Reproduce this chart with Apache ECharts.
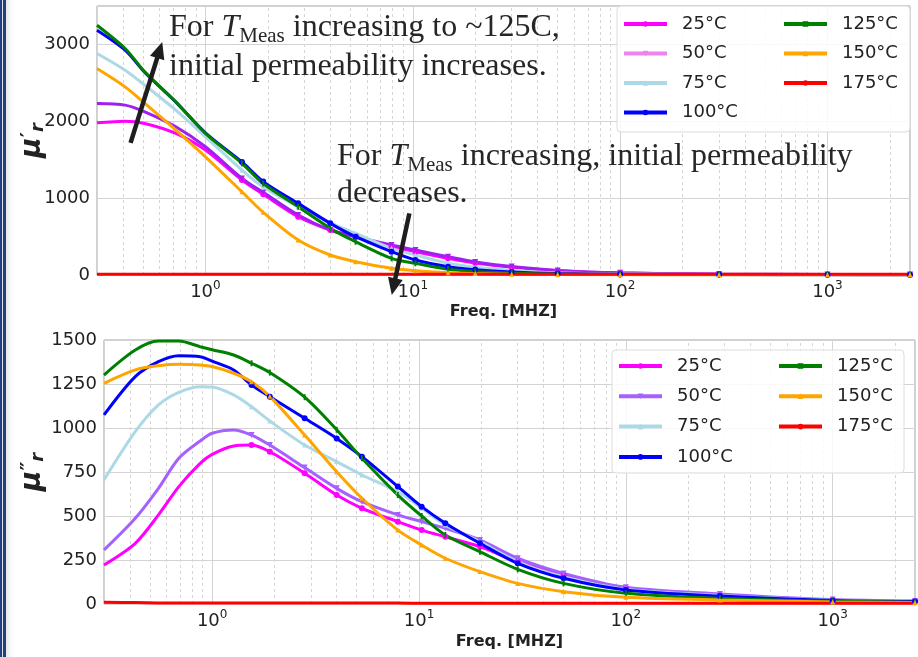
<!DOCTYPE html>
<html><head><meta charset="utf-8">
<script src="https://cdn.jsdelivr.net/npm/echarts@6/dist/echarts.min.js"></script>
<style>html,body{margin:0;padding:0;background:#fff}#c{width:918px;height:657px}</style>
</head><body><div id="c"></div>
<script>
// ---------- data ----------
const names = ['25°C','50°C','75°C','100°C','125°C','150°C','175°C'];

const freqTop = [0.3, 0.41, 0.51, 0.72, 1.0, 1.5, 1.9, 2.8, 4.0, 5.3, 7.9, 10.3, 14.8, 20, 30, 50, 100, 300, 1000, 2500];
const top25  = [1980, 2002, 1972, 1842, 1625, 1235, 1050, 758, 585, 498, 368, 303, 217, 155, 100, 55, 25, 10, 5, 4];
const top50  = [2232, 2210, 2123, 1928, 1668, 1257, 1075, 780, 585, 498, 390, 325, 238, 170, 110, 60, 28, 12, 6, 5];
const top75  = [2882, 2665, 2470, 2145, 1798, 1365, 1145, 888, 680, 542, 347, 260, 152, 100, 60, 30, 15, 8, 5, 4];
const top100 = [3185, 2925, 2635, 2250, 1850, 1470, 1215, 932, 672, 498, 303, 195, 108, 70, 40, 20, 10, 6, 4, 3];
const top125 = [3250, 2947, 2643, 2253, 1842, 1452, 1190, 888, 607, 433, 217, 152, 74, 45, 25, 12, 6, 4, 3, 3];
const top150 = [2687, 2448, 2232, 1885, 1538, 1083, 815, 455, 260, 173, 87, 55, 30, 18, 10, 6, 4, 3, 3, 3];
const top175 = [10, 10, 10, 10, 10, 10, 10, 10, 10, 10, 10, 10, 10, 10, 10, 10, 10, 10, 10, 10];

const freqBot = [0.3, 0.425, 0.55, 0.69, 0.875, 1.0, 1.27, 1.55, 1.9, 2.8, 4.0, 5.3, 7.9, 10.3, 13.4, 19.7, 30, 50, 100, 285, 1000, 2500];
const bot25  = [222, 345, 506, 667, 799, 850, 898, 903, 865, 743, 619, 544, 468, 420, 382, 326, 240, 165, 89, 51, 22, 15];
const bot50  = [307, 487, 657, 828, 926, 970, 989, 960, 903, 775, 657, 581, 506, 468, 430, 364, 260, 174, 95, 57, 25, 17];
const bot75  = [705, 979, 1131, 1203, 1235, 1233, 1188, 1121, 1040, 903, 809, 733, 638, 545, 449, 354, 240, 155, 84, 49, 22, 15];
const bot100 = [1074, 1292, 1377, 1411, 1405, 1380, 1330, 1244, 1178, 1055, 941, 837, 667, 553, 459, 345, 231, 146, 80, 45, 20, 14];
const bot125 = [1301, 1443, 1494, 1494, 1462, 1445, 1415, 1368, 1315, 1175, 990, 828, 619, 500, 392, 297, 197, 117, 61, 32, 15, 10];
const bot150 = [1254, 1330, 1354, 1362, 1358, 1349, 1311, 1263, 1180, 960, 752, 601, 420, 335, 260, 184, 117, 70, 38, 23, 12, 8];
const bot175 = [10, 8, 6, 5, 5, 5, 5, 5, 5, 5, 5, 5, 5, 4, 4, 4, 4, 4, 4, 4, 4, 4];

const minorTicks = [0.4,0.5,0.6,0.7,0.8,0.9, 2,3,4,5,6,7,8,9, 20,30,40,50,60,70,80,90, 200,300,400,500,600,700,800,900, 2000];
const yTicksTop = {min: 0, max: 3500, interval: 1000};
const yTicksBot = {min: 0, max: 1500, interval: 250};

const arrowUp   = {from: [0.4355, 1720], to: [0.619, 3033]};
const arrowDown = {from: [9.63, 802], to: [7.92, -260]};

// ---------- styles ----------
const colorsTop = ['#ff00ff','#a020f0','#add8e6','#0000ff','#008000','#ffa500','#ff0000'];
const legendTop = ['#ff00ff','#ee82ee','#add8e6','#0000ff','#008000','#ffa500','#ff0000'];
const colorsBot = ['#ff00ff','#a560ff','#add8e6','#0000ff','#008000','#ffa500','#ff0000'];
const symbols = [
  {symbol:'circle', size:6, rot:0},
  {symbol:'triangle', size:6, rot:180},
  {symbol:'triangle', size:5, rot:0},
  {symbol:'circle', size:6, rot:0},
  {symbol:'rect', size:[2,6], rot:0},
  {symbol:'triangle', size:5, rot:0},
  {symbol:'none', size:0, rot:0}
];
const FONT = 'DejaVu Sans';
const TXT = '#222';

const topSets = [top25, top50, top75, top100, top125, top150, top175];
const botSets = [bot25, bot50, bot75, bot100, bot125, bot150, bot175];
const botNames = names.map(n => n + '\u200b');

function build(freq, vals) {
  return freq.map((f, i) => f < 1.4 ? {value: [f, vals[i]], symbol: 'none'} : [f, vals[i]]);
}

const series = [];
function addSeries(sets, nms, colors, ai) {
  sets.forEach((vals, k) => {
    series.push({
      name: nms[k], type: 'line', xAxisIndex: ai, yAxisIndex: ai,
      data: build(ai === 0 ? freqTop : freqBot, vals), color: colors[k],
      symbol: symbols[k].symbol, symbolSize: symbols[k].size, symbolRotate: symbols[k].rot,
      showSymbol: k !== 6, smooth: 0.3, lineStyle: {width: 3}, animation: false, z: 2
    });
  });
}
addSeries(topSets, names, colorsTop, 0);
addSeries(botSets, botNames, colorsBot, 1);
[0, 1].forEach(i => {
  series.push({
    type: 'line', xAxisIndex: i, yAxisIndex: i, data: [], silent: true, animation: false,
    markLine: {
      silent: true, symbol: 'none', z: 1, animation: false,
      label: {show: false},
      lineStyle: {color: '#d6d6d6', type: [3, 3], width: 1},
      emphasis: {disabled: true},
      data: minorTicks.map(v => ({xAxis: v}))
    }
  });
});

function powFmt(v) {
  const e = Math.log10(v), r = Math.round(e);
  if (Math.abs(e - r) < 1e-6) return '{b|10}{s|' + r + '}';
  return '';
}
function xAxisCfg(gi, gap) {
  return {
    type: 'log', logBase: 10, gridIndex: gi, min: 0.3, max: 2500,
    axisLine: {show: false}, axisTick: {show: false},
    splitLine: {show: true, lineStyle: {color: '#d3d3d3', width: 1}},
    axisLabel: {
      formatter: powFmt, margin: 5,
      rich: {
        b: {fontSize: 18, lineHeight: 24, color: TXT, fontFamily: FONT},
        s: {fontSize: 12, lineHeight: 12, verticalAlign: 'top', color: TXT, fontFamily: FONT}
      }
    },
    name: 'Freq. [MHZ]', nameLocation: 'middle', nameGap: gap, nameMoveOverlap: false,
    nameTextStyle: {fontWeight: 'bold', fontSize: 16, color: TXT, fontFamily: FONT}
  };
}
function yAxisCfg(gi, t, nm, gap) {
  return {
    type: 'value', gridIndex: gi, min: t.min, max: t.max, interval: t.interval,
    axisLine: {show: false}, axisTick: {show: false},
    splitLine: {show: true, lineStyle: {color: '#d3d3d3', width: 1}},
    axisLabel: {fontSize: 18, color: TXT, margin: 7, fontFamily: FONT, showMaxLabel: gi === 1,
                formatter: v => String(v)},
    name: nm, nameLocation: 'middle', nameRotate: 90, nameGap: gap, nameMoveOverlap: false,
    nameTextStyle: {
      rich: {
        m: {fontSize: 28, fontWeight: 'bold', fontStyle: 'italic', fontFamily: FONT, color: TXT, lineHeight: 28},
        p: {fontSize: 20, fontWeight: 'bold', fontFamily: FONT, color: TXT, lineHeight: 20, verticalAlign: 'top'},
        r: {fontSize: 18, fontWeight: 'bold', fontStyle: 'italic', fontFamily: FONT, color: TXT, lineHeight: 18, verticalAlign: 'bottom'}
      }
    }
  };
}
function legendCfg(list, left, top, colors, offs, gap) {
  return {
    orient: 'vertical', left: left, top: top, padding: 0,
    itemWidth: 43, itemHeight: 7, itemGap: gap,
    textStyle: {fontSize: 18, color: TXT, fontFamily: FONT, lineHeight: 18, padding: [0, 0, 0, 10]},
    data: list.map((n, i) => ({
      name: n,
      itemStyle: {color: colors[offs + i]},
      lineStyle: {color: colors[offs + i], width: 4}
    })),
    selectedMode: false
  };
}

const gridBase = {show: true, borderColor: '#a0a0a0', borderWidth: 1, backgroundColor: 'transparent',
                  containLabel: false, outerBoundsMode: 'none'};
const option = {
  backgroundColor: '#fff',
  animation: false,
  textStyle: {fontFamily: FONT},
  grid: [
    Object.assign({left: 97, right: 8, top: 6, bottom: 382}, gridBase),
    Object.assign({left: 104, right: 3, top: 340, bottom: 53}, gridBase)
  ],
  xAxis: [xAxisCfg(0, 29), xAxisCfg(1, 30)],
  yAxis: [
    yAxisCfg(0, yTicksTop, '{m|μ}{p|′}{r|r}', 50),
    yAxisCfg(1, yTicksBot, '{m|μ}{p|″}{r|r}', 57)
  ],
  legend: [
    legendCfg(names.slice(0, 4), 622, 15, legendTop, 0, 11.5),
    legendCfg(names.slice(4), 782, 15, legendTop, 4, 11.5),
    legendCfg(botNames.slice(0, 4), 617, 357, colorsBot, 0, 12.3),
    legendCfg(botNames.slice(4), 777, 357, colorsBot, 4, 12.3)
  ],
  series: series
};

const chart = echarts.init(document.getElementById('c'), null, {renderer: 'canvas'});
chart.setOption(option);

// ---------- decorations ----------
function arrowEls(a) {
  const p0 = chart.convertToPixel({xAxisIndex: 0, yAxisIndex: 0}, a.from);
  const p1 = chart.convertToPixel({xAxisIndex: 0, yAxisIndex: 0}, a.to);
  const dx = p1[0] - p0[0], dy = p1[1] - p0[1];
  const L = Math.sqrt(dx * dx + dy * dy), ux = dx / L, uy = dy / L;
  const hl = 17, hw = 7.5;
  const bx = p1[0] - ux * hl, by = p1[1] - uy * hl;
  return [
    {type: 'line', z: 20, shape: {x1: p0[0], y1: p0[1], x2: bx + ux * 2, y2: by + uy * 2}, style: {stroke: '#1e1e1e', lineWidth: 4.5}},
    {type: 'polygon', z: 20, shape: {points: [[p1[0], p1[1]], [bx - uy * hw, by + ux * hw], [bx + uy * hw, by - ux * hw]]}, style: {fill: '#1e1e1e'}}
  ];
}
const SERIF = 'Liberation Serif';
const serifRich = {
  n: {fontSize: 32, lineHeight: 38, fontFamily: SERIF, fill: '#262626'},
  i: {fontSize: 32, lineHeight: 38, fontFamily: SERIF, fontStyle: 'italic', fill: '#262626'},
  s: {fontSize: 21, lineHeight: 21, verticalAlign: 'bottom', fontFamily: SERIF, fill: '#262626'}
};
function txt(x, y, s) {
  return {type: 'text', z: 20, x: x, y: y, style: {text: s, rich: serifRich, fill: '#262626', font: '32px "Liberation Serif"', verticalAlign: 'top'}};
}

const graphics = [
  {type: 'rect', z: 30, shape: {x: 0, y: 0, width: 2, height: 657}, style: {fill: '#22407c'}},
  {type: 'rect', z: 30, shape: {x: 2, y: 0, width: 1, height: 657}, style: {fill: '#dde3ee'}},
  {type: 'rect', z: 30, shape: {x: 3, y: 0, width: 3, height: 657}, style: {fill: '#22407c'}},
  {type: 'rect', z: 30, shape: {x: 6, y: 0, width: 10, height: 657},
   style: {fill: new echarts.graphic.LinearGradient(0, 0, 1, 0, [{offset: 0, color: '#e6e6e6'}, {offset: 1, color: 'rgba(255,255,255,0)'}])}},
  {type: 'rect', z: 3, shape: {x: 617, y: 6, width: 293, height: 126, r: 4}, style: {fill: 'rgba(255,255,255,0.85)', stroke: '#dcdcdc', lineWidth: 1}},
  {type: 'rect', z: 3, shape: {x: 612, y: 350, width: 292, height: 123, r: 4}, style: {fill: 'rgba(255,255,255,0.85)', stroke: '#dcdcdc', lineWidth: 1}},
  txt(169, 9, '{n|For }{i|T}{s|Meas}{n| increasing to ~125C,}'),
  txt(169, 48, '{n|initial permeability increases.}'),
  txt(337, 138, '{n|For }{i|T}{s|Meas}{n| increasing, initial permeability}'),
  txt(337, 175, '{n|decreases.}')
].concat(arrowEls(arrowUp), arrowEls(arrowDown));

chart.setOption({graphic: {elements: graphics}});
</script></body></html>
